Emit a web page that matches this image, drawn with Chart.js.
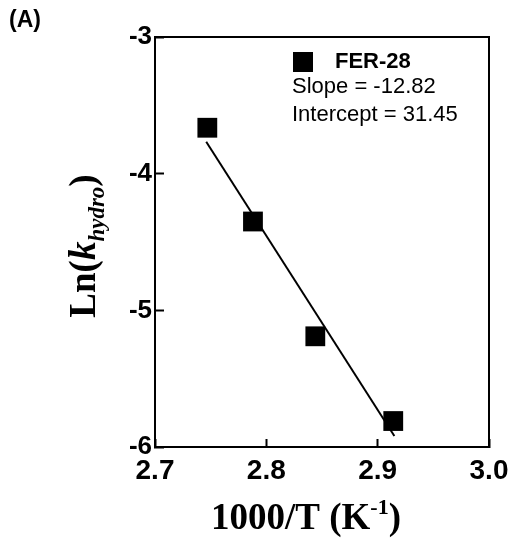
<!DOCTYPE html>
<html>
<head>
<meta charset="utf-8">
<script src="https://cdn.jsdelivr.net/npm/chart.js@4"></script>
<style>
  html, body { margin: 0; padding: 0; background: #fff; }
</style>
</head>
<body>
<canvas id="arrheniusChart" width="511" height="544"></canvas>
<script>
// measured points (1000/T, ln k)
const invTemp = [2.747, 2.788, 2.844, 2.914];
const lnK = [-3.664, -4.35, -5.19, -5.81];

// fitted line ends as drawn in the figure
const fitX = [2.746, 2.915];
const fitY = [-3.766, -5.92];

const xTicks = [2.7, 2.8, 2.9, 3.0];
const yTicks = [-6, -5, -4, -3];

const seriesName = "FER-28";
const slopeText = "Slope = -12.82";
const interceptText = "Intercept = 31.45";
const panelLabel = "(A)";

const SANS = "'Liberation Sans', Arial, sans-serif";
const SERIF = "'Liberation Serif', 'Times New Roman', serif";

const decorations = {
  id: "decorations",
  afterDraw(chart) {
    const ctx = chart.ctx;
    const a = chart.chartArea;
    ctx.save();

    // frame
    ctx.strokeStyle = "#000";
    ctx.lineWidth = 2;
    ctx.strokeRect(a.left, a.top, a.right - a.left, a.bottom - a.top);

    // panel label
    ctx.fillStyle = "#000";
    ctx.textBaseline = "middle";
    ctx.textAlign = "left";
    ctx.font = "bold 23px " + SANS;
    ctx.fillText(panelLabel, 9, 21);

    // legend box
    const mx = a.left + 148, my = a.top + 25;
    ctx.fillRect(mx - 10, my - 10, 20, 20);
    ctx.font = "bold 22px " + SANS;
    ctx.fillText(seriesName, a.left + 180, my);
    ctx.font = "22px " + SANS;
    ctx.fillText(slopeText, a.left + 137, a.top + 50);
    ctx.fillText(interceptText, a.left + 137, a.top + 78);

    // x title with superscript
    ctx.textBaseline = "alphabetic";
    const big = "bold 37px " + SERIF;
    const small = "bold 22px " + SERIF;
    const parts = [["1000/T (K", big, 0], ["-1", small, -15], [")", big, 0]];
    let total = 0;
    parts.forEach(p => { ctx.font = p[1]; total += ctx.measureText(p[0]).width; });
    let x = (a.left + a.right) / 2 - total / 2 - 16;
    parts.forEach(p => {
      ctx.font = p[1];
      ctx.fillText(p[0], x, 529 + p[2]);
      x += ctx.measureText(p[0]).width;
    });

    // y title, rotated, with italic k and subscript
    const yParts = [
      ["Ln(", "bold 37px " + SERIF, 0],
      ["k", "bold italic 37px " + SERIF, 0],
      ["hydro", "bold italic 23px " + SERIF, 9],
      [")", "bold 37px " + SERIF, 0]
    ];
    total = 0;
    yParts.forEach(p => { ctx.font = p[1]; total += ctx.measureText(p[0]).width; });
    ctx.translate(95, 246);
    ctx.rotate(-Math.PI / 2);
    x = -total / 2;
    yParts.forEach(p => {
      ctx.font = p[1];
      ctx.fillText(p[0], x, p[2]);
      x += ctx.measureText(p[0]).width;
    });

    ctx.restore();
  }
};

const ctx = document.getElementById("arrheniusChart").getContext("2d");

new Chart(ctx, {
  type: "scatter",
  data: {
    datasets: [
      {
        label: seriesName,
        data: invTemp.map((v, i) => ({ x: v, y: lnK[i] })),
        pointStyle: "rect",
        pointRadius: 14,
        pointHoverRadius: 14,
        backgroundColor: "#000",
        borderColor: "#000",
        borderWidth: 0,
        order: 0
      },
      {
        label: "fit",
        type: "line",
        data: fitX.map((v, i) => ({ x: v, y: fitY[i] })),
        borderColor: "#000",
        borderWidth: 2,
        pointRadius: 0,
        fill: false,
        order: 1
      }
    ]
  },
  options: {
    responsive: false,
    animation: false,
    layout: { padding: { top: 37, right: 22, left: 0, bottom: 0 } },
    plugins: {
      legend: { display: false },
      tooltip: { enabled: false }
    },
    scales: {
      x: {
        type: "linear",
        min: xTicks[0],
        max: xTicks[xTicks.length - 1],
        afterBuildTicks: scale => { scale.ticks = xTicks.map(v => ({ value: v })); },
        afterFit: scale => {
          scale.height = 97;
          scale.paddingLeft = 0;
          scale.paddingRight = 0;
        },
        ticks: {
          color: "#000",
          font: { family: SANS, size: 28, weight: "bold" },
          padding: 15,
          maxRotation: 0,
          autoSkip: false,
          callback: v => Number(v).toFixed(1)
        },
        grid: {
          drawOnChartArea: false,
          drawTicks: true,
          tickLength: -8,
          tickWidth: 2,
          tickColor: "#000"
        },
        border: { display: true, color: "#000", width: 2 }
      },
      y: {
        type: "linear",
        min: yTicks[0],
        max: yTicks[yTicks.length - 1],
        afterBuildTicks: scale => { scale.ticks = yTicks.map(v => ({ value: v })); },
        afterFit: scale => {
          scale.width = 155;
          scale.paddingTop = 0;
          scale.paddingBottom = 0;
        },
        ticks: {
          color: "#000",
          font: { family: SANS, size: 26, weight: "bold" },
          padding: 12,
          autoSkip: false,
          callback: v => String(v)
        },
        grid: {
          drawOnChartArea: false,
          drawTicks: true,
          tickLength: -9,
          tickWidth: 2,
          tickColor: "#000"
        },
        border: { display: true, color: "#000", width: 2 }
      }
    }
  },
  plugins: [decorations]
});
</script>
</body>
</html>
